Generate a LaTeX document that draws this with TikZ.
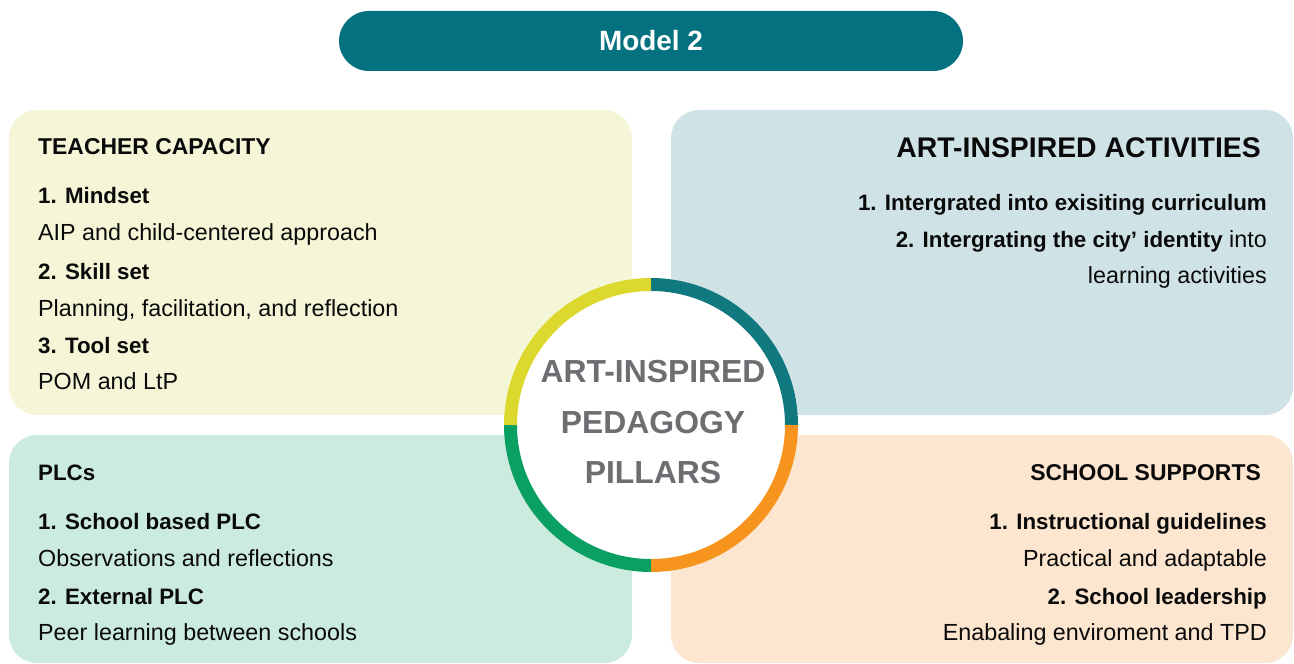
\documentclass[tikz,border=0pt]{standalone}
\usepackage{fontspec}
\setmainfont{Liberation Sans}
\definecolor{teal}{HTML}{03717F}
\definecolor{ringteal}{HTML}{10787F}
\definecolor{ringorange}{HTML}{F7941D}
\definecolor{ringgreen}{HTML}{0AA064}
\definecolor{ringyellow}{HTML}{DCD82D}
\definecolor{boxyellow}{HTML}{F5F6D8}
\definecolor{boxblue}{HTML}{CFE3E6}
\definecolor{boxgreen}{HTML}{CBEBDF}
\definecolor{boxpeach}{HTML}{FCE6D0}
\definecolor{pillargrey}{HTML}{6D6E71}
\definecolor{ink}{HTML}{0A0A0A}
\newcommand{\itemfont}{\fontsize{22.4}{27}\selectfont\bfseries}
\tikzset{
  panel/.style={rounded corners=28bp},
  txt/.style={inner sep=0pt, text=ink, font=\fontsize{23.4}{27}\selectfont},
  lefttxt/.style={txt, anchor=base west},
  righttxt/.style={txt, anchor=base east},
  ring/.style={line width=13bp},
}
\begin{document}
\begin{tikzpicture}[x=1bp,y=-1bp]
\useasboundingbox (0,0) rectangle (1294,664);

% title pill
\node[fill=teal, rounded corners=30bp, minimum width=624bp, minimum height=60bp,
      text=white, font=\fontsize{28}{32}\selectfont\bfseries] (title) at (651,41) {Model 2};

% four pillar panels
\fill[panel, boxyellow] (9,110) rectangle (632,415);
\fill[panel, boxblue]   (671,110) rectangle (1293,415);
\fill[panel, boxgreen]  (9,435) rectangle (632,663);
\fill[panel, boxpeach]  (671,435) rectangle (1293,663);

% central ring
\coordinate (c) at (651,425);
\fill[white] (c) circle[radius=147bp];
\draw[ring, ringteal]   ([shift={(0,-140.5)}]c) arc[start angle=90, end angle=0, radius=140.5bp];
\draw[ring, ringorange] ([shift={(140.5,0)}]c) arc[start angle=0, end angle=-90, radius=140.5bp];
\draw[ring, ringgreen]  ([shift={(0,140.5)}]c) arc[start angle=-90, end angle=-180, radius=140.5bp];
\draw[ring, ringyellow] ([shift={(-140.5,0)}]c) arc[start angle=180, end angle=90, radius=140.5bp];

\begin{scope}[every node/.style={inner sep=0pt, text=pillargrey, anchor=base,
    font=\fontsize{32}{36}\selectfont\bfseries}]
  \node (p1) at (653,382) {ART-INSPIRED};
  \node (p2) at (653,433) {PEDAGOGY};
  \node (p3) at (653,483) {PILLARS};
\end{scope}

% teacher capacity
\node[lefttxt] (tc0) at (38,155) {\fontsize{23}{27}\selectfont\bfseries TEACHER CAPACITY};
\node[lefttxt] (tc1) at (38,204) {\itemfont 1. Mindset};
\node[lefttxt] (tc2) at (38,241) {AIP and child-centered approach};
\node[lefttxt] (tc3) at (38,279) {\itemfont 2. Skill set};
\node[lefttxt] (tc4) at (38,316) {Planning, facilitation, and reflection};
\node[lefttxt] (tc5) at (38,353) {\itemfont 3. Tool set};
\node[lefttxt] (tc6) at (38,389) {POM and LtP};

% art-inspired activities
\node[righttxt, font=\fontsize{28.5}{32}\selectfont\bfseries] (aa0) at (1261,158) {ART-INSPIRED ACTIVITIES};
\node[righttxt] (aa1) at (1267,211) {\itemfont 1. Intergrated into exisiting curriculum};
\node[righttxt] (aa2) at (1267,248) {{\itemfont 2. Intergrating the city’ identity} into};
\node[righttxt] (aa3) at (1267,283) {learning activities};

% professional learning communities
\node[lefttxt] (pl0) at (38,480) {\itemfont PLCs};
\node[lefttxt] (pl1) at (38,529) {\itemfont 1. School based PLC};
\node[lefttxt] (pl2) at (38,566) {Observations and reflections};
\node[lefttxt] (pl3) at (38,604) {\itemfont 2. External PLC};
\node[lefttxt] (pl4) at (38,640) {Peer learning between schools};

% school supports
\node[righttxt] (ss0) at (1261,480) {\fontsize{23}{27}\selectfont\bfseries SCHOOL SUPPORTS};
\node[righttxt] (ss1) at (1267,529) {\itemfont 1. Instructional guidelines};
\node[righttxt] (ss2) at (1267,566) {Practical and adaptable};
\node[righttxt] (ss3) at (1267,604) {\itemfont 2. School leadership};
\node[righttxt] (ss4) at (1267,640) {Enabaling enviroment and TPD};
\end{tikzpicture}
\end{document}
